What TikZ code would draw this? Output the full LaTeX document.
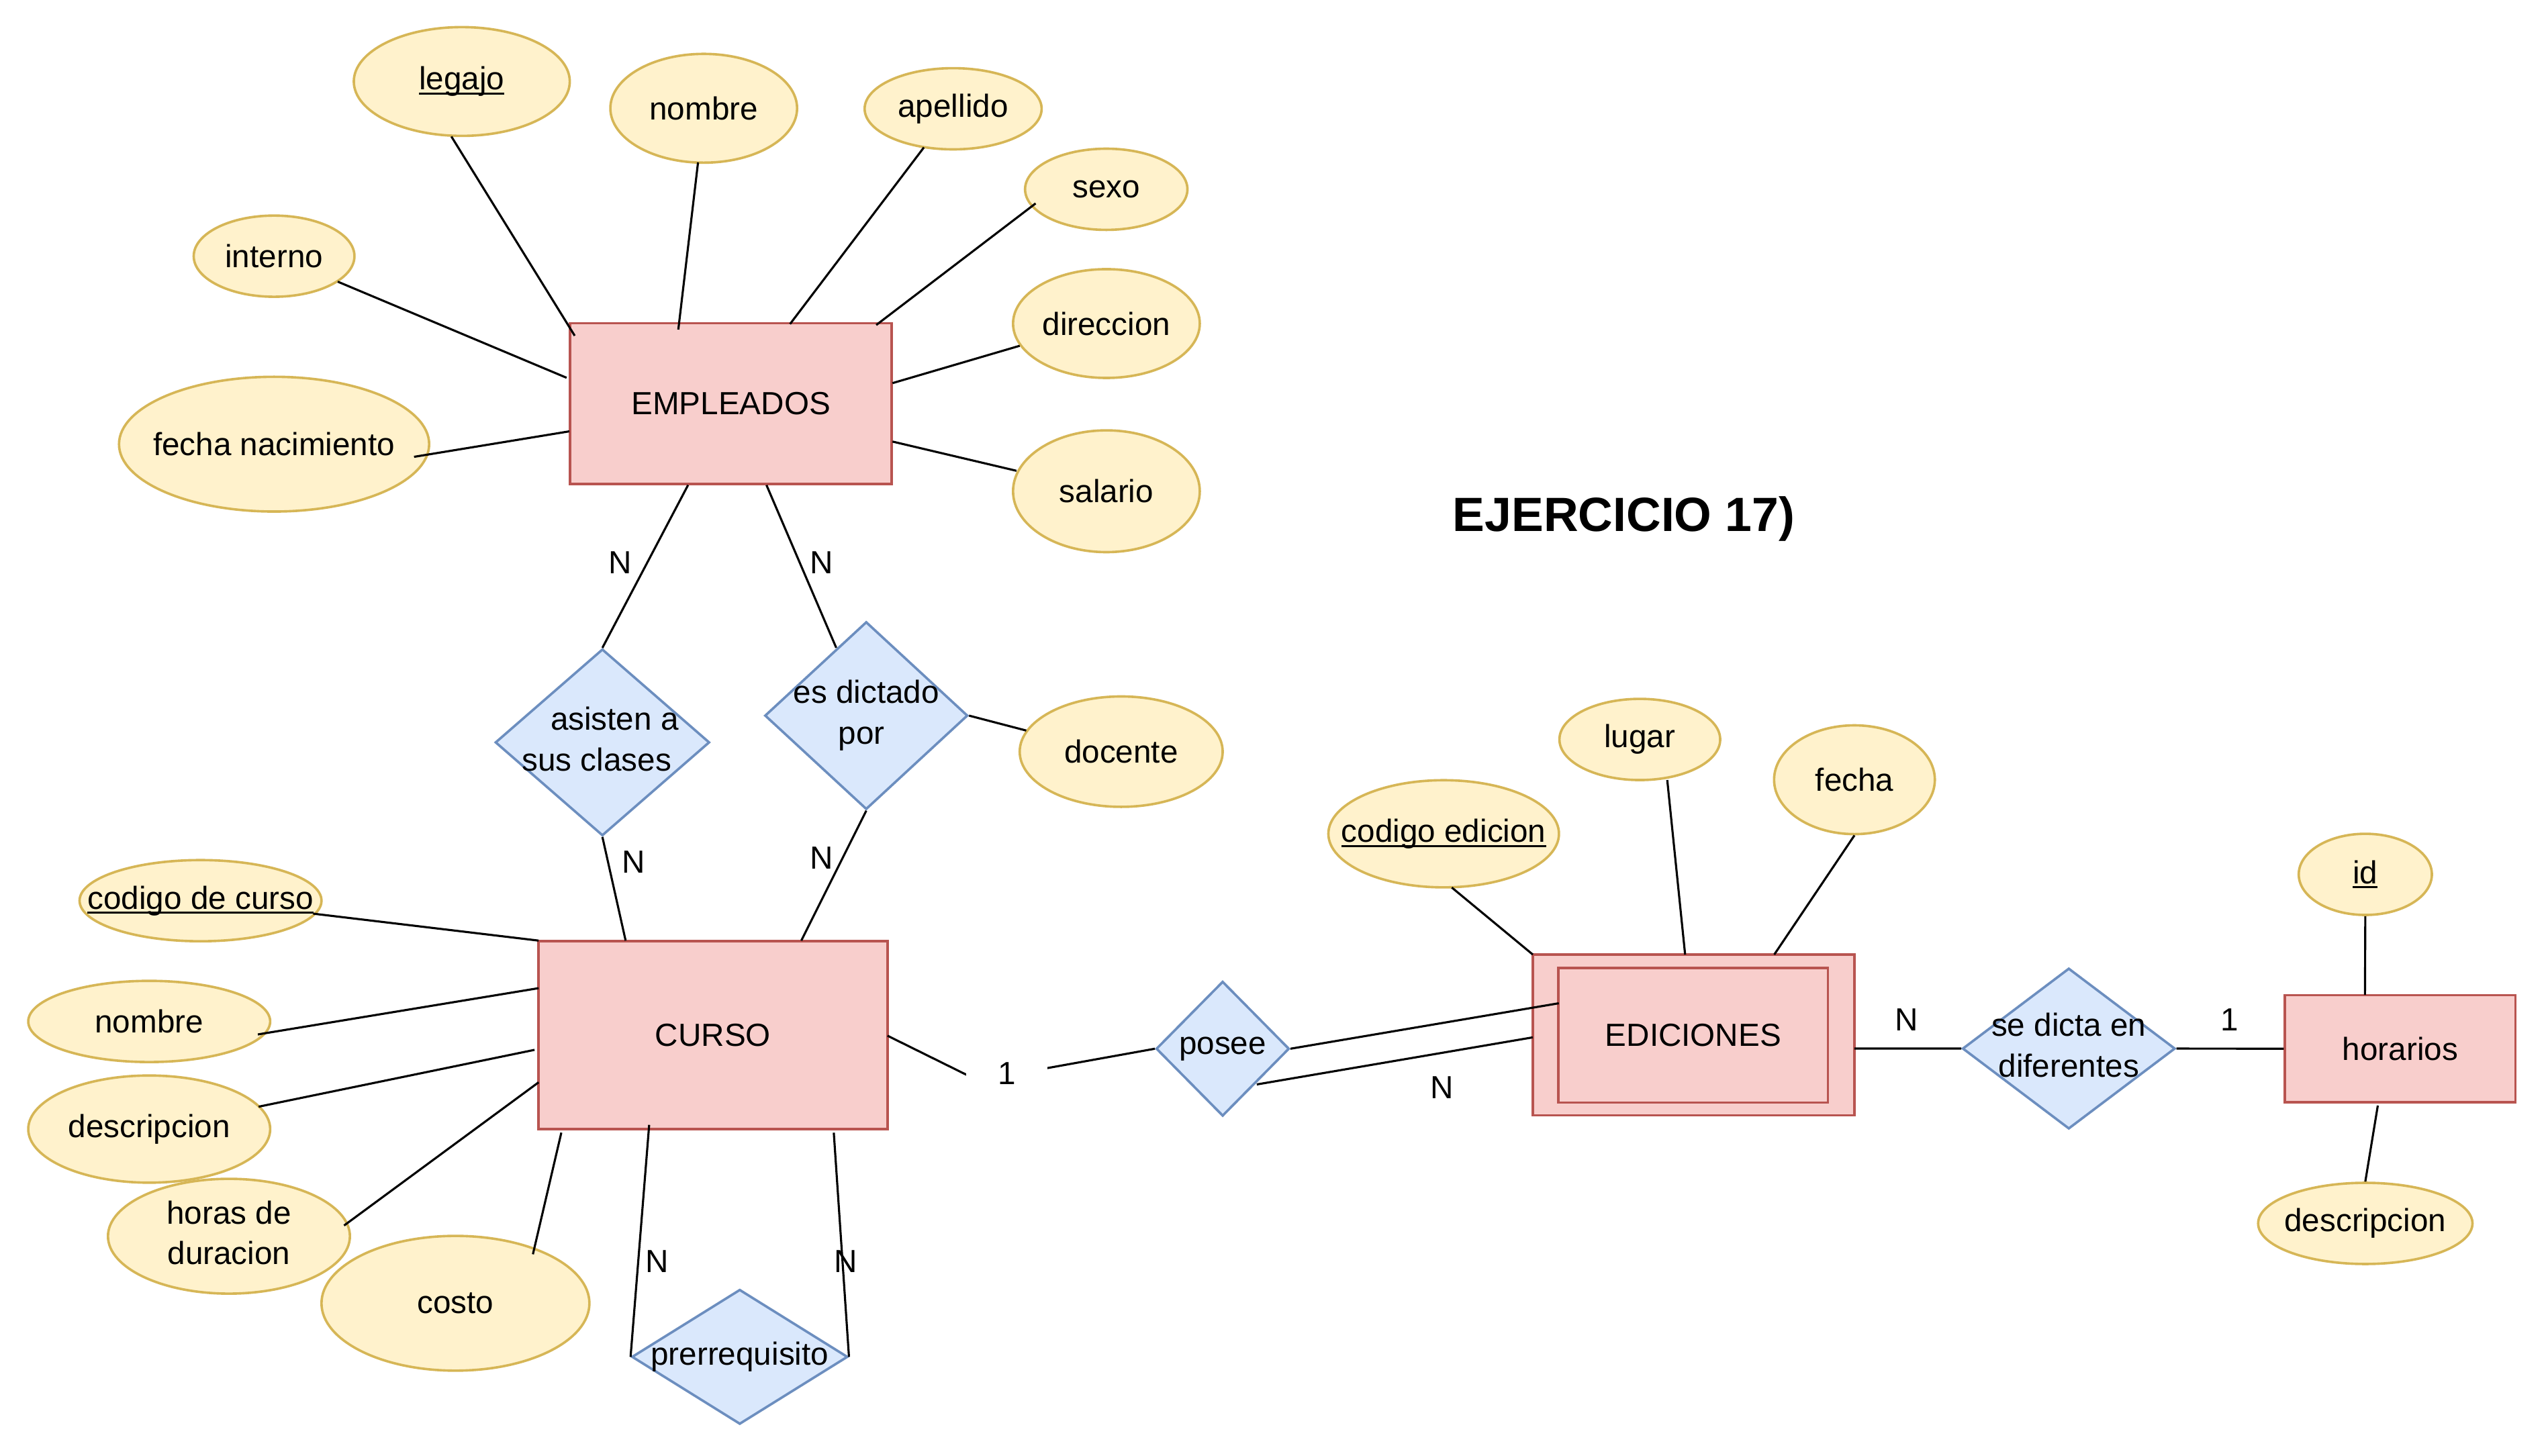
\documentclass[tikz,border=0pt]{standalone}
\usepackage{fontspec}
\setmainfont{Liberation Sans}
\usetikzlibrary{shapes.geometric}
\definecolor{attrF}{HTML}{FFF2CC}
\definecolor{attrS}{HTML}{D6B656}
\definecolor{entF}{HTML}{F8CECC}
\definecolor{entS}{HTML}{B85450}
\definecolor{relF}{HTML}{DAE8FC}
\definecolor{relS}{HTML}{6C8EBF}
\newcommand\zb[1]{\makebox[0pt]{#1}}
\newsavebox\ulbox
\newcommand\ulx[1]{\sbox\ulbox{#1}\rlap{\rule[-3pt]{\wd\ulbox}{1.3pt}}\usebox\ulbox}
\newcommand\two[2]{\makebox[0pt]{\begin{tabular}{@{}c@{}}#1\\#2\end{tabular}}}
\begin{document}
\begin{tikzpicture}[x=1pt,y=-1pt, font=\fontsize{19.7}{25}\selectfont,
  attr/.style={ellipse, draw=attrS, fill=attrF, line width=1.5pt, inner sep=0pt},
  ent/.style={rectangle, draw=entS, fill=entF, line width=1.5pt, inner sep=0pt},
  rel/.style={diamond, draw=relS, fill=relF, line width=1.5pt, inner sep=0pt},
  con/.style={line width=1.3pt, draw=black},
  card/.style={inner sep=0pt}]
\useasboundingbox[fill=white] (0,0) rectangle (1568,896.5);

% entities
\node[ent, minimum width=198pt, minimum height=99pt] (emp) at (450.15,248.6) {EMPLEADOS};
\node[ent, minimum width=215pt, minimum height=116pt] (curso) at (439.1,637.6) {CURSO};
\node[ent, minimum width=198pt, minimum height=99pt] (edout) at (1043,637.6) {};
\node[ent, minimum width=166pt, minimum height=83pt] (edic) at (1042.8,637.7) {EDICIONES};
\node[ent, minimum width=142pt, minimum height=66pt] (hor) at (1478.2,646) {horarios};

% attributes of EMPLEADOS
\node[attr, minimum width=133pt, minimum height=67pt] (legajo) at (284.4,50.2) {\zb{\ulx{legajo}}};
\node[attr, minimum width=115pt, minimum height=67pt] (nomE) at (433.4,66.7) {\zb{nombre}};
\node[attr, minimum width=109pt, minimum height=50pt] (ape) at (587,67) {\zb{apellido}};
\node[attr, minimum width=100pt, minimum height=50pt] (sexo) at (681.3,116.6) {\zb{sexo}};
\node[attr, minimum width=99pt, minimum height=50pt] (interno) at (168.8,157.8) {\zb{interno}};
\node[attr, minimum width=115pt, minimum height=67pt] (dir) at (681.4,199.3) {\zb{direccion}};
\node[attr, minimum width=191pt, minimum height=83pt] (fnac) at (168.8,273.6) {\zb{fecha nacimiento}};
\node[attr, minimum width=115pt, minimum height=75pt] (sal) at (681.4,302.6) {\zb{salario}};
\node[attr, minimum width=125pt, minimum height=68pt] (doc) at (690.5,463) {\zb{docente}};

% attributes of CURSO
\node[attr, minimum width=149pt, minimum height=50pt] (codc) at (123.5,554.8) {\zb{\ulx{codigo de curso}}};
\node[attr, minimum width=149pt, minimum height=50pt] (nomC) at (91.9,629.2) {\zb{nombre}};
\node[attr, minimum width=149pt, minimum height=66pt] (descC) at (91.9,695.5) {\zb{descripcion}};
\node[attr, minimum width=149pt, minimum height=67pt] (horas) at (141,761.5) {\two{horas de}{duracion}};
\node[attr, minimum width=165pt, minimum height=83pt] (costo) at (280.5,802.8) {\zb{costo}};

% attributes of EDICIONES and horarios
\node[attr, minimum width=142pt, minimum height=66pt] (coded) at (889.1,513.6) {\zb{\ulx{codigo edicion}}};
\node[attr, minimum width=99pt, minimum height=50pt] (lugar) at (1009.9,455.5) {\zb{lugar}};
\node[attr, minimum width=99pt, minimum height=67pt] (fecha) at (1142.1,480.3) {\zb{fecha}};
\node[attr, minimum width=82pt, minimum height=50pt] (id) at (1456.7,538.6) {\zb{\ulx{id}}};
\node[attr, minimum width=132pt, minimum height=50pt] (descH) at (1456.7,753.6) {\zb{descripcion}};

% relationships
\node[rel, minimum width=132pt, minimum height=115pt] (asis) at (371,457.3) {\two{\hspace*{15pt}asisten a}{sus clases\hspace*{7pt}}};
\node[rel, minimum width=125pt, minimum height=115.6pt] (dict) at (533.5,440.8) {\two{es dictado}{por\hspace*{6pt}}};
\node[rel, minimum width=133pt, minimum height=83pt] (prer) at (455.6,835.8) {\zb{prerrequisito}};
\node[rel, minimum width=82pt, minimum height=83pt] (posee) at (753,646) {\zb{posee}};
\node[rel, minimum width=131pt, minimum height=99pt] (sedic) at (1274.1,645.9) {\two{se dicta en}{diferentes}};

% title
\node[font=\bfseries\fontsize{29.6}{34}\selectfont] (title) at (1000,319.5) {EJERCICIO 17)};

% connectors EMPLEADOS
\draw[con] ([shift={(-6.4,33.9)}]legajo.center) -- ([shift={(-96.2,-41.8)}]emp.center);
\draw[con] ([shift={(-3.5,33.3)}]nomE.center) -- ([shift={(-32.4,-45.6)}]emp.center);
\draw[con] ([shift={(-18,23.8)}]ape.center) -- ([shift={(36.4,-49)}]emp.center);
\draw[con] ([shift={(-43.5,8.7)}]sexo.center) -- ([shift={(89.5,-48.4)}]emp.center);
\draw[con] ([shift={(39.2,15.7)}]interno.center) -- ([shift={(-101.2,-15.9)}]emp.center);
\draw[con] ([shift={(86.2,7.8)}]fnac.center) -- ([shift={(-99.5,17.1)}]emp.center);
\draw[con] ([shift={(-53.4,13.7)}]dir.center) -- ([shift={(99.5,-12.6)}]emp.center);
\draw[con] ([shift={(-55.4,-12.6)}]sal.center) -- ([shift={(99.5,23.4)}]emp.center);
\draw[con] ([shift={(-26.4,50.2)}]emp.center) -- (asis.north);
\draw[con] ([shift={(21.9,50.2)}]emp.center) -- ([shift={(-18.5,-41.8)}]dict.center);
\draw[con] (dict.east) -- ([shift={(-58.5,-13)}]doc.center);
% connectors CURSO
\draw[con] (asis.south) -- ([shift={(-53.8,-58.2)}]curso.center);
\draw[con] (dict.south) -- ([shift={(54.4,-58.2)}]curso.center);
\draw[con] ([shift={(69.4,8)}]codc.center) -- ([shift={(-107.4,-58.2)}]curso.center);
\draw[con] ([shift={(66.9,8)}]nomC.center) -- ([shift={(-107.4,-28.9)}]curso.center);
\draw[con] ([shift={(67.4,-13.8)}]descC.center) -- ([shift={(-109.9,9.1)}]curso.center);
\draw[con] ([shift={(70.9,-6.6)}]horas.center) -- ([shift={(-107.4,29.1)}]curso.center);
\draw[con] ([shift={(47.7,-30.2)}]costo.center) -- ([shift={(-93.4,60.1)}]curso.center);
\draw[con] ([shift={(-39.3,55.3)}]curso.center) -- (prer.west);
\draw[con] ([shift={(74.4,60.1)}]curso.center) -- (prer.east);
\coordinate (bend) at (602.4,665.6);
\draw[con] ([shift={(107.5,0.4)}]curso.center) -- (bend) -- (posee.west);
% connectors EDICIONES
\draw[con] (posee.east) -- ([shift={(-82.8,-19.7)}]edic.center);
\draw[con] ([shift={(21,22)}]posee.center) -- ([shift={(-99,1.4)}]edout.center);
\draw[con] ([shift={(5,33.1)}]coded.center) -- ([shift={(-99,-49.6)}]edout.center);
\draw[con] ([shift={(16.9,25)}]lugar.center) -- ([shift={(-5.2,-49.6)}]edout.center);
\draw[con] (fecha.south) -- ([shift={(49.7,-49.6)}]edout.center);
\draw[con] ([shift={(99,8.3)}]edout.center) -- (sedic.west);
\draw[con] (sedic.east) -- (hor.west);
\draw[con] (id.south) -- ([shift={(-21.7,-33.1)}]hor.center);
\draw[con] ([shift={(-13.8,35)}]hor.center) -- (descH.north);

% cardinalities
\node[card] (c1) at (381.8,346.7) {N};
\node[card] (c2) at (506,346.7) {N};
\node[card] (c3) at (390.3,531) {N};
\node[card] (c4) at (506,528.7) {N};
\node[card] (c5) at (404.8,776.9) {N};
\node[card] (c6) at (521,776.9) {N};
\node[card, fill=white, minimum width=50pt, minimum height=28pt] (c7) at (620.2,661.4) {1};
\node[card] (c8) at (888.1,669.9) {N};
\node[card] (c9) at (1174,628.3) {N};
\node[card] (c10) at (1373.1,628.3) {1};
\end{tikzpicture}
\end{document}
